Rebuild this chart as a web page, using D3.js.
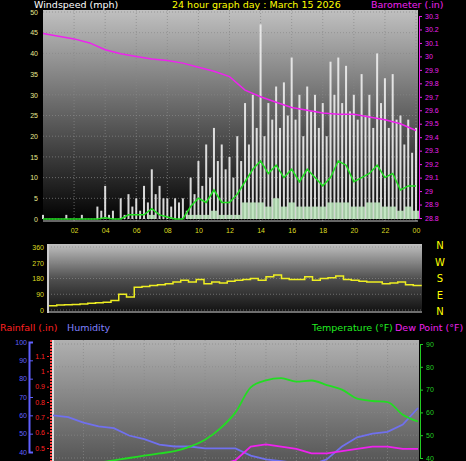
<!DOCTYPE html>
<html><head><meta charset="utf-8">
<script src="https://cdn.jsdelivr.net/npm/d3@7"></script>
<style>body{margin:0;background:#000}svg{display:block;font-family:"DejaVu Sans",sans-serif}</style>
</head><body>
<svg id="c" width="466" height="461"></svg>
<script>
// half-hour steps 0..24
const halfHours = d3.range(0, 24.01, 0.5);
const quarterHours = d3.range(0, 24.01, 0.25);
const gust = [1,0,0,0,0,0,1,0,0,0,1,0,0,0,3,2,
  8,1,2,0,5,1,6,3,5,2,8,4,12,6,8,5,
  5,3,5,4,5,2,10,6,14,8,18,10,22,14,18,12,
  15,10,20,14,28,18,30,22,47,20,28,24,32,22,33,25,
  39,24,30,20,32,26,30,22,28,20,38,30,39,28,37,26,
  30,24,35,25,30,22,40,28,34,22,35,24,25,18,24,16,22];
const avgWind = [0,0,0,0,0,0,0,0,0.3,0,0,1,1,1,2.5,1,0.5,0,0,3,5,4,7,4,4,6,9,12,14,11,13,10,12,9,12,10,8,10,14,13,9,10,11,13,10,11,7,8,8];
const lull = [0,0,0,0,0,0,0,0,0,0,0,0,0,0,1,0,0,0,0,1,1,1,2,1,1,1,4,4,4,3,5,3,4,3,3,3,3,4,4,4,3,3,4,4,3,3,2,3,2];
const hours = d3.range(0, 25);
const baro = [30.17,30.15,30.13,30.1,30.05,30.02,30.0,29.98,29.97,29.95,29.92,29.89,29.85,29.75,29.7,29.66,29.62,29.6,29.58,29.57,29.57,29.55,29.53,29.5,29.45];
const windDir = [25,28,30,32,35,38,42,45,55,90,75,130,135,140,145,150,160,170,160,175,150,160,155,165,170,175,180,170,190,200,180,175,175,190,170,180,185,195,175,170,165,160,160,150,155,160,145,140,145];
const humidity = [60,59,56,54,53,49,47,44,43,43,42,42,42,38,36,35,34,33,36,43,48,50,51,55,64];
const temperature = [36,37,37.5,38,39,40,41,42,43,45,48,53,60,71,74,75,73.5,74,72,70,66,65,64.5,59,56];
const dewPoint = [33,33,33,33,34,34,34,35,35,36,36,37,39,45,46,45,44,42,42,43,44,45,45,44,44];
const hourTicks = [2,4,6,8,10,12,14,16,18,20,22,24];
const compass = ["N","W","S","E","N"];

const svg = d3.select("#c");
const defs = svg.append("defs");
function grad(id, stops) {
  const g = defs.append("linearGradient").attr("id", id).attr("x1",0).attr("x2",0).attr("y1",0).attr("y2",1);
  stops.forEach(s => g.append("stop").attr("offset", s[0]).attr("stop-color", s[1]));
}
grad("g1", [[0,"#c0c0c0"],[0.5,"#606060"],[1,"#000"]]);
grad("g2", [[0,"#c0c0c0"],[0.5,"#505050"],[1,"#101010"]]);
grad("g3", [[0,"#b0b0b0"],[1,"#505050"]]);

function grid(x0, x1, ys) {
  const g = svg.append("g").attr("stroke", "#888").attr("stroke-dasharray", "1,2").attr("stroke-width", 0.7);
  ys.forEach(y => g.append("line").attr("x1", x0).attr("x2", x1).attr("y1", y).attr("y2", y));
  return g;
}

// ---- panel 1: wind + baro
const x1 = d3.scaleLinear().domain([0, 24]).range([43, 416]);
const yW = d3.scaleLinear().domain([0, 50]).range([219, 12]);
const yB = d3.scaleLinear().domain([28.8, 30.3]).range([218, 16]);
svg.append("rect").attr("x", 43).attr("y", 10).attr("width", 375).attr("height", 212).attr("fill", "url(#g1)");
const g1 = grid(43, 418, d3.range(0, 51, 5).map(yW));
hourTicks.forEach(h => g1.append("line").attr("x1", x1(h)).attr("x2", x1(h)).attr("y1", 10).attr("y2", 222));
const bw = 2;
svg.append("g").selectAll("rect").data(gust).join("rect")
  .attr("x", (d, i) => x1(quarterHours[i]) - bw / 2).attr("width", bw)
  .attr("y", d => yW(d)).attr("height", d => yW(0) - yW(d)).attr("fill", "#eeeeee").attr("opacity", 0.9);
const lw = x1(0.5) - x1(0) - 1;
svg.append("g").selectAll("rect").data(lull).join("rect")
  .attr("x", (d, i) => x1(halfHours[i]) - lw / 2).attr("width", lw)
  .attr("y", d => yW(d)).attr("height", d => yW(0) - yW(d)).attr("fill", "#bfeabf").attr("opacity", 0.85);
svg.append("path").datum(avgWind).attr("fill", "none").attr("stroke", "#22dd22").attr("stroke-width", 1.5)
  .attr("d", d3.line().x((d, i) => x1(halfHours[i])).y(d => yW(d)));
svg.append("path").datum(baro).attr("fill", "none").attr("stroke", "#ee22ee").attr("stroke-width", 1.5)
  .attr("d", d3.line().x((d, i) => x1(hours[i])).y(d => yB(d)));
svg.append("line").attr("x1", 43).attr("x2", 418).attr("y1", 221).attr("y2", 221).attr("stroke", "#ccc");

svg.append("g").attr("transform", "translate(40,0)")
  .call(d3.axisLeft(yW).tickValues(d3.range(0, 51, 5)).tickSize(0).tickPadding(2))
  .call(g => { g.select(".domain").remove(); g.selectAll("text").attr("fill", "#e8e890").attr("font-size", 7); });
svg.append("g").attr("transform", "translate(419,0)")
  .call(d3.axisRight(yB).tickValues(d3.range(28.8, 30.31, 0.1)).tickFormat(d => +d.toFixed(1)).tickSize(3).tickPadding(3))
  .call(g => { g.select(".domain").attr("stroke", "#ee22ee"); g.selectAll("line").attr("stroke", "#ee22ee");
    g.selectAll("text").attr("fill", "#ee22ee").attr("font-size", 7); });
svg.append("g").attr("transform", "translate(0,222)")
  .call(d3.axisBottom(x1).tickValues(hourTicks).tickFormat(d => d3.format("02")(d % 24)).tickSize(0).tickPadding(6))
  .call(g => { g.select(".domain").remove(); g.selectAll("text").attr("fill", "#dddd22").attr("font-size", 7); });
svg.append("text").attr("x", 34).attr("y", 8).attr("fill", "#fff").attr("font-size", 9.5).text("Windspeed (mph)");
svg.append("text").attr("x", 172).attr("y", 8).attr("fill", "#ffff00").attr("font-size", 9.5).text("24 hour graph day : March 15 2026");
svg.append("text").attr("x", 371).attr("y", 8).attr("fill", "#ee22ee").attr("font-size", 9.5).text("Barometer (.in)");

// ---- panel 2: wind direction
const x2 = d3.scaleLinear().domain([0, 24]).range([49, 421]);
const yD = d3.scaleLinear().domain([0, 360]).range([310, 247]);
svg.append("rect").attr("x", 48).attr("y", 244).attr("width", 374).attr("height", 69).attr("fill", "url(#g2)");
grid(48, 421, [0, 90, 180, 270, 360].map(yD));
svg.append("line").attr("x1", 48).attr("x2", 48).attr("y1", 244).attr("y2", 313).attr("stroke", "#ccc").attr("stroke-width", 2);
svg.append("line").attr("x1", 48).attr("x2", 422).attr("y1", 312).attr("y2", 312).attr("stroke", "#ccc");
svg.append("path").datum(windDir).attr("fill", "none").attr("stroke", "#eeee22").attr("stroke-width", 1.5)
  .attr("d", d3.line().x((d, i) => x2(halfHours[i])).y(d => yD(d)).curve(d3.curveStepAfter));
svg.append("g").attr("transform", "translate(45,0)")
  .call(d3.axisLeft(yD).tickValues([0, 90, 180, 270, 360]).tickSize(0).tickPadding(1))
  .call(g => { g.select(".domain").remove(); g.selectAll("text").attr("fill", "#dddd22").attr("font-size", 7); });
const yC = d3.scalePoint().domain(d3.range(5)).range([245, 311]);
svg.append("g").selectAll("text").data(compass).join("text")
  .attr("x", 440).attr("y", (d, i) => yC(i) + 4).attr("text-anchor", "middle")
  .attr("fill", "#ffff00").attr("font-size", 10).text(d => d);

// ---- panel 3: rain / humidity / temp / dew
svg.append("text").attr("x", 0).attr("y", 331).attr("fill", "#ff2020").attr("font-size", 9.5).text("Rainfall (.in)");
svg.append("text").attr("x", 67).attr("y", 331).attr("fill", "#8080ff").attr("font-size", 9.5).text("Humidity");
svg.append("text").attr("x", 312).attr("y", 331).attr("fill", "#22ee22").attr("font-size", 9.5).text("Temperature (°F)");
svg.append("text").attr("x", 395).attr("y", 331).attr("fill", "#ee22ee").attr("font-size", 9.5).text("Dew Point (°F)");
const x3 = d3.scaleLinear().domain([0, 24]).range([53, 418]);
const yH = d3.scaleLinear().domain([40, 100]).range([452, 342]);
const yR = d3.scaleLinear().domain([0.5, 1.1]).range([448, 356]);
const yT = d3.scaleLinear().domain([40, 90]).range([458, 344]);
svg.append("rect").attr("x", 53).attr("y", 340).attr("width", 366).attr("height", 130).attr("fill", "url(#g3)");
const g3 = grid(53, 419, d3.range(40, 91, 10).map(yT));
d3.range(1, 12).forEach(i => g3.append("line").attr("x1", x3(i * 2)).attr("x2", x3(i * 2)).attr("y1", 340).attr("y2", 461));
svg.append("line").attr("x1", 53).attr("x2", 53).attr("y1", 340).attr("y2", 461).attr("stroke", "#ddd").attr("stroke-width", 2);
svg.append("line").attr("x1", 51).attr("x2", 51).attr("y1", 340).attr("y2", 461).attr("stroke", "#ff4040").attr("stroke-width", 2).attr("stroke-dasharray", "2,1");
const clip = defs.append("clipPath").attr("id", "cp3");
clip.append("rect").attr("x", 53).attr("y", 340).attr("width", 366).attr("height", 130);
const lines3 = svg.append("g").attr("clip-path", "url(#cp3)").attr("fill", "none").attr("stroke-width", 1.8);
lines3.append("path").datum(humidity).attr("stroke", "#7070ee")
  .attr("d", d3.line().x((d, i) => x3(hours[i])).y(d => yH(d)));
lines3.append("path").datum(temperature).attr("stroke", "#22dd22")
  .attr("d", d3.line().x((d, i) => x3(hours[i])).y(d => yT(d)).curve(d3.curveMonotoneX));
lines3.append("path").datum(dewPoint).attr("stroke", "#ee22ee")
  .attr("d", d3.line().x((d, i) => x3(hours[i])).y(d => yT(d)));
svg.append("g").attr("transform", "translate(29,0)")
  .call(d3.axisRight(yH).tickValues(d3.range(40, 101, 10)).tickSize(4).tickPadding(0))
  .call(g => { g.select(".domain").attr("stroke", "#6060ff").attr("stroke-width", 2);
    g.selectAll("line").attr("stroke", "#6060ff");
    g.selectAll("text").attr("fill", "#6060ff").attr("font-size", 7).attr("text-anchor", "end").attr("x", -2); });
svg.append("g").attr("transform", "translate(49,0)")
  .call(d3.axisLeft(yR).tickValues(d3.range(0.5, 1.11, 0.1)).tickFormat(d => d3.format(".1~f")(d)).tickSize(2).tickPadding(2))
  .call(g => { g.select(".domain").remove(); g.selectAll("line").attr("stroke", "#ff2020");
    g.selectAll("text").attr("fill", "#ff2020").attr("font-size", 7); });
svg.append("g").attr("transform", "translate(420,0)")
  .call(d3.axisRight(yT).tickValues(d3.range(40, 91, 10)).tickSize(3).tickPadding(3))
  .call(g => { g.select(".domain").attr("stroke", "#22cc22"); g.selectAll("line").attr("stroke", "#22cc22");
    g.selectAll("text").attr("fill", "#22cc22").attr("font-size", 7); });
</script>
</body></html>
